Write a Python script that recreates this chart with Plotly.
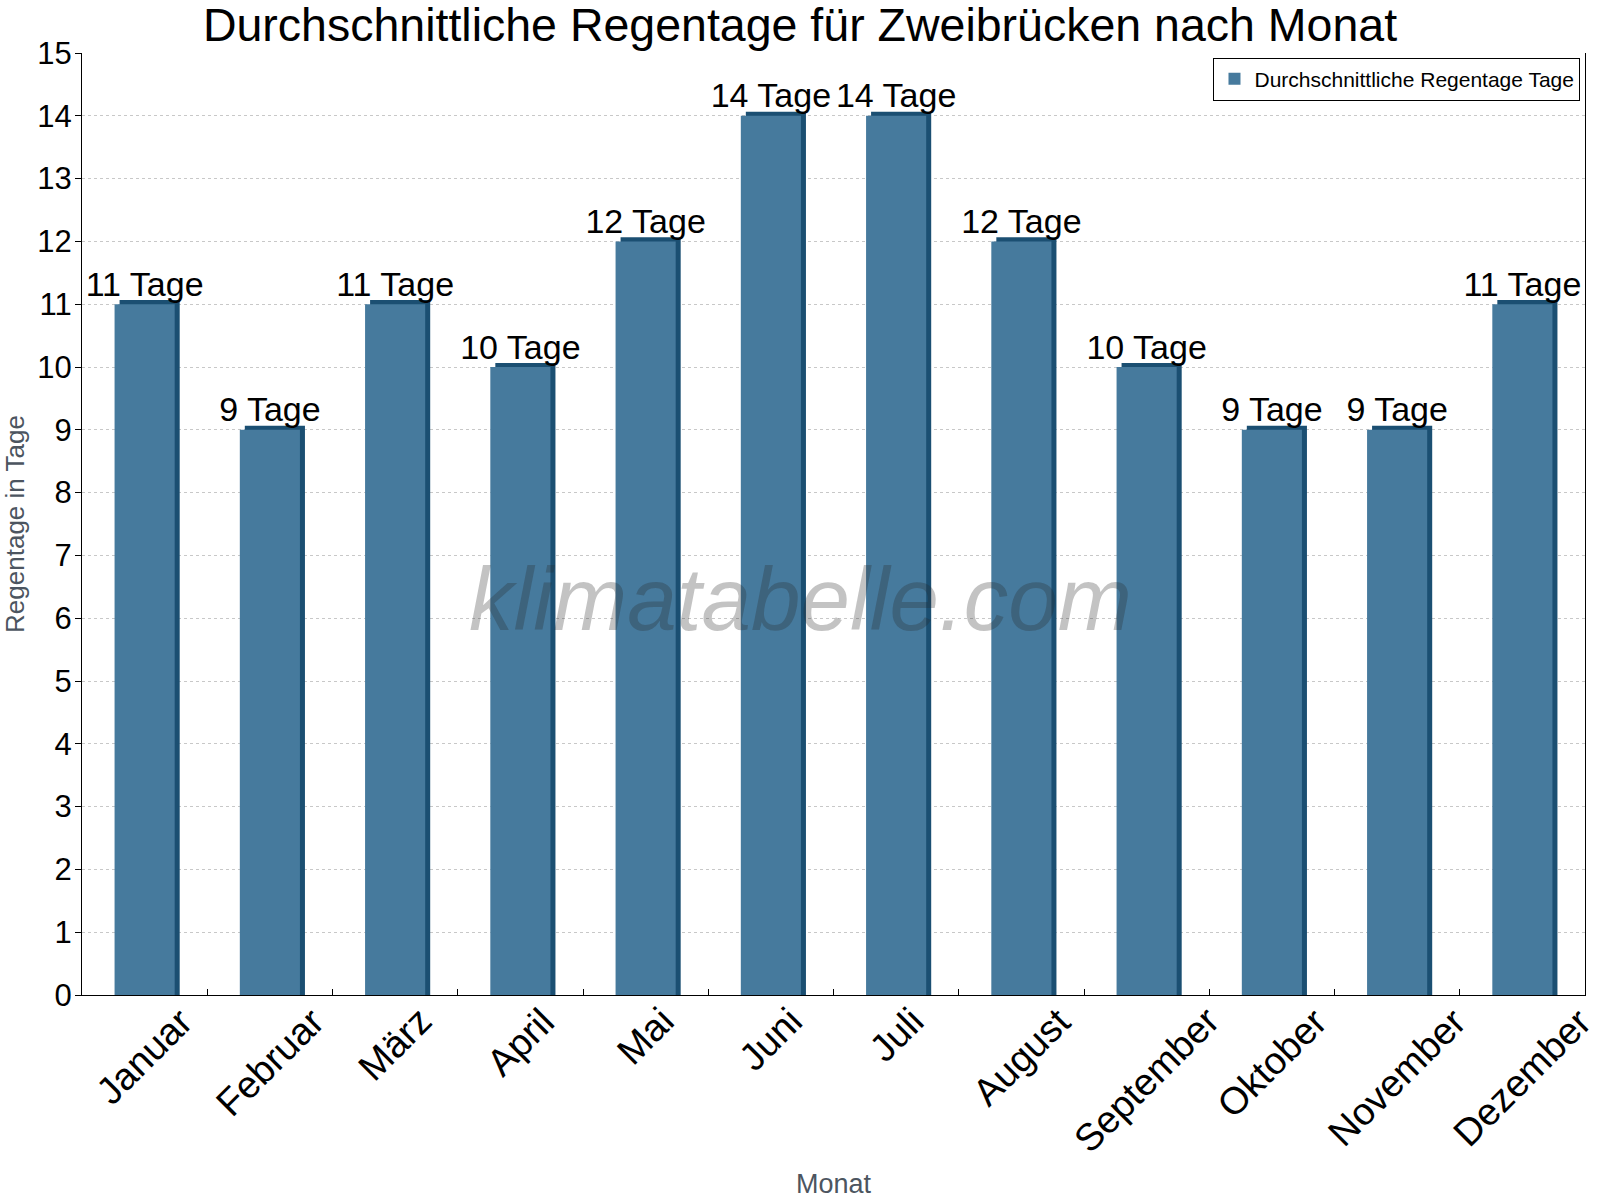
import plotly.graph_objects as go

months = ["Januar", "Februar", "März", "April", "Mai", "Juni", "Juli",
          "August", "September", "Oktober", "November", "Dezember"]
rain_days = [11, 9, 11, 10, 12, 14, 14, 12, 10, 9, 9, 11]
labels = [f"{v} Tage" for v in rain_days]
series_name = "Durchschnittliche Regentage Tage"

front_color = "#467A9D"
side_color = "#1B4F72"
FONT = "Liberation Sans, Arial, sans-serif"

fig = go.Figure()

# darker back bar gives the 3D side/top edge
fig.add_trace(go.Bar(
    x=months, y=[v + 0.065 for v in rain_days],
    width=0.48, offset=-0.20,
    marker=dict(color=side_color, line=dict(width=0)),
    showlegend=False, hoverinfo="skip",
))
fig.add_trace(go.Bar(
    x=months, y=rain_days, name=series_name,
    width=0.48, offset=-0.24,
    marker=dict(color=front_color, line=dict(width=0)),
    showlegend=True,
))
fig.add_trace(go.Scatter(
    x=months, y=rain_days, mode="text", text=labels,
    textposition="top center",
    textfont=dict(size=34, color="#000000", family=FONT),
    showlegend=False, hoverinfo="skip", cliponaxis=False,
))

# rotated month labels, centred under each category
month_labels = [dict(
    text=m, x=m, y=0, xref="x", yref="y",
    xanchor="center", yanchor="top", yshift=-2,
    textangle=-45, showarrow=False,
    font=dict(size=38, color="#000000", family=FONT),
) for m in months]

watermark = dict(
    text="<i>klimatabelle.com</i>", xref="paper", yref="paper",
    x=0.478, y=0.42, xanchor="center", yanchor="middle", showarrow=False,
    font=dict(size=89, color="rgba(40,40,40,0.28)", family=FONT),
)

fig.update_layout(
    width=1600, height=1200,
    barmode="overlay",
    paper_bgcolor="white", plot_bgcolor="white",
    margin=dict(l=82, r=15, t=53, b=205),
    font=dict(family=FONT, color="#000000"),
    title=dict(text="Durchschnittliche Regentage für Zweibrücken nach Monat",
               x=0.5, xanchor="center", y=1 - 25 / 1200, yanchor="middle",
               font=dict(size=46.5, color="#000000", family=FONT)),
    legend=dict(x=0.997, xanchor="right", y=0.995, yanchor="top",
                bordercolor="#000000", borderwidth=1, bgcolor="white",
                font=dict(size=21, color="#000000", family=FONT)),
    xaxis=dict(
        type="category", automargin=False,
        range=[-0.5, 11.5],
        showticklabels=False,
        showline=True, linecolor="#000000", linewidth=1,
        ticks="inside", tickson="boundaries", ticklen=6, tickcolor="#000000",
        showgrid=False,
        title=dict(text="Monat", font=dict(size=27, color="#4C5560", family=FONT), standoff=179),
    ),
    yaxis=dict(
        range=[0, 15], dtick=1, automargin=False,
        tickfont=dict(size=31, color="#000000", family=FONT),
        ticklabelstandoff=-3,
        showline=True, linecolor="#000000", linewidth=1, mirror=True,
        ticks="outside", ticklen=6, tickcolor="#000000",
        showgrid=True, gridcolor="#C8C8C8", griddash="dot", gridwidth=1,
        zeroline=False,
        title=dict(text="Regentage in Tage", font=dict(size=26, color="#4C5560", family=FONT), standoff=6),
    ),
    annotations=month_labels + [watermark],
)

fig.write_html("out.html")
